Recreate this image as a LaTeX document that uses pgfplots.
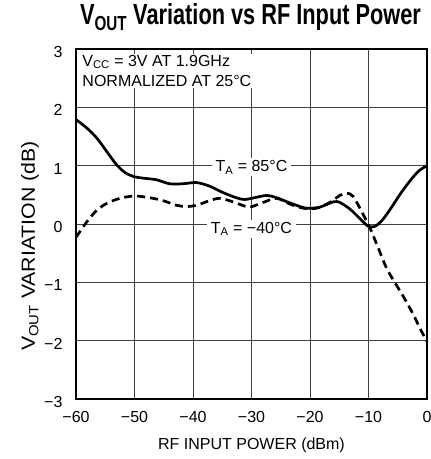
\documentclass[border=0pt]{standalone}
\usepackage{fontspec}
\setmainfont{Liberation Sans}
\newfontfamily\titlefont{Liberation Sans}[FakeStretch=0.75]
\newfontfamily\ylabfont{Liberation Sans}[FakeStretch=1.12]
\usepackage{pgfplots}
\pgfplotsset{compat=1.18}
\begin{document}
\fontsize{16}{15}\selectfont
\begin{tikzpicture}
\begin{axis}[name=ax, scale only axis, width=351pt, height=350pt,
  xmin=-60, xmax=0, ymin=-3, ymax=3,
  xtick={-60,-50,-40,-30,-20,-10,0}, ytick={-3,-2,-1,0,1,2,3},
  xticklabels={−60,−50,−40,−30,−20,−10,0},
  yticklabels={−3,−2,−1,0,1,2,3},
  major tick length=0pt,
  grid=major, grid style={black!75, line width=0.8pt},
  axis line style={line width=1.2pt},
  tick label style={font=\fontsize{16}{16}\selectfont},
  xticklabel style={yshift=-7pt},
  yticklabel style={xshift=-8pt, yshift=-3pt},
  xlabel={RF INPUT POWER (dBm)},
  xlabel style={at={(rel axis cs:0.5,0)}, anchor=base, yshift=-50pt, font=\fontsize{16}{16}\selectfont},
  ylabel={V\textsubscript{OUT} VARIATION (dB)},
  ylabel style={at={(rel axis cs:-0.117,0.437)}, anchor=base, font=\ylabfont\fontsize{19}{19}\selectfont},
  title={V\textsubscript{OUT} Variation vs RF Input Power},
  title style={at={(rel axis cs:0.497,1)}, anchor=base, yshift=18pt, font=\titlefont\fontsize{29}{29}\selectfont\bfseries},
]
\node[fill=white, inner sep=1pt, anchor=north west, align=left, font=\fontsize{16}{20.5}\selectfont]
  at (axis cs:-59.1,2.914) {V\textsubscript{CC} = 3V AT 1.9GHz\\NORMALIZED AT 25°C};
\node[fill=white, inner xsep=4pt, inner ysep=2pt, anchor=base, font=\fontsize{16}{16}\selectfont]
  at (axis cs:-30,0.90) {T\textsubscript{A} = 85°C};
\node[fill=white, inner xsep=4pt, inner ysep=2pt, anchor=base, font=\fontsize{16}{16}\selectfont]
  at (axis cs:-30,-0.16) {T\textsubscript{A} = −40°C};
\addplot[black, line width=2.7pt, smooth, tension=0.5] coordinates {
(-60,1.79) (-58.2,1.65) (-56.5,1.48) (-54.8,1.25) (-53.1,1.02) (-51.6,0.88)
(-50,0.81) (-48,0.78) (-46.3,0.76) (-44,0.69) (-41.7,0.69) (-39.4,0.71)
(-37.2,0.65) (-34.9,0.54) (-32.6,0.45) (-31.2,0.42) (-29.5,0.45) (-27.4,0.49)
(-25.7,0.45) (-23.4,0.36) (-21.1,0.28) (-20,0.27) (-18.3,0.29) (-16,0.38)
(-14.9,0.37) (-13.1,0.25) (-11.4,0.085) (-10,-0.04) (-8.9,-0.04) (-7.7,0.06)
(-6.3,0.25) (-4.6,0.51) (-2.9,0.74) (-1.4,0.91) (0,1.0)
};
\addplot[black, line width=2.7pt, dash pattern=on 8pt off 5pt, smooth, tension=0.5] coordinates {
(-60,-0.23) (-58.2,0.03) (-56.5,0.23) (-54.8,0.35) (-52.5,0.44) (-50,0.48)
(-47.4,0.45) (-45.1,0.40) (-42.8,0.32) (-41.1,0.30) (-39.4,0.32) (-37.2,0.40)
(-35.5,0.44) (-33.8,0.40) (-32.1,0.34) (-30.3,0.29) (-28,0.37) (-25.7,0.44)
(-23.4,0.34) (-21.1,0.27) (-18.9,0.27) (-16.6,0.37) (-14.9,0.49) (-13.7,0.53)
(-12.6,0.47) (-11.1,0.20) (-9.7,-0.08) (-8.3,-0.42) (-6.9,-0.76) (-5.4,-1.02)
(-4,-1.25) (-2.3,-1.56) (-1.1,-1.81) (0,-2.01)
};
\end{axis}
\pgfresetboundingbox
\path ([xshift=-76pt,yshift=-60pt]ax.south west) rectangle ([xshift=3pt,yshift=49pt]ax.north east);
\end{tikzpicture}
\end{document}
